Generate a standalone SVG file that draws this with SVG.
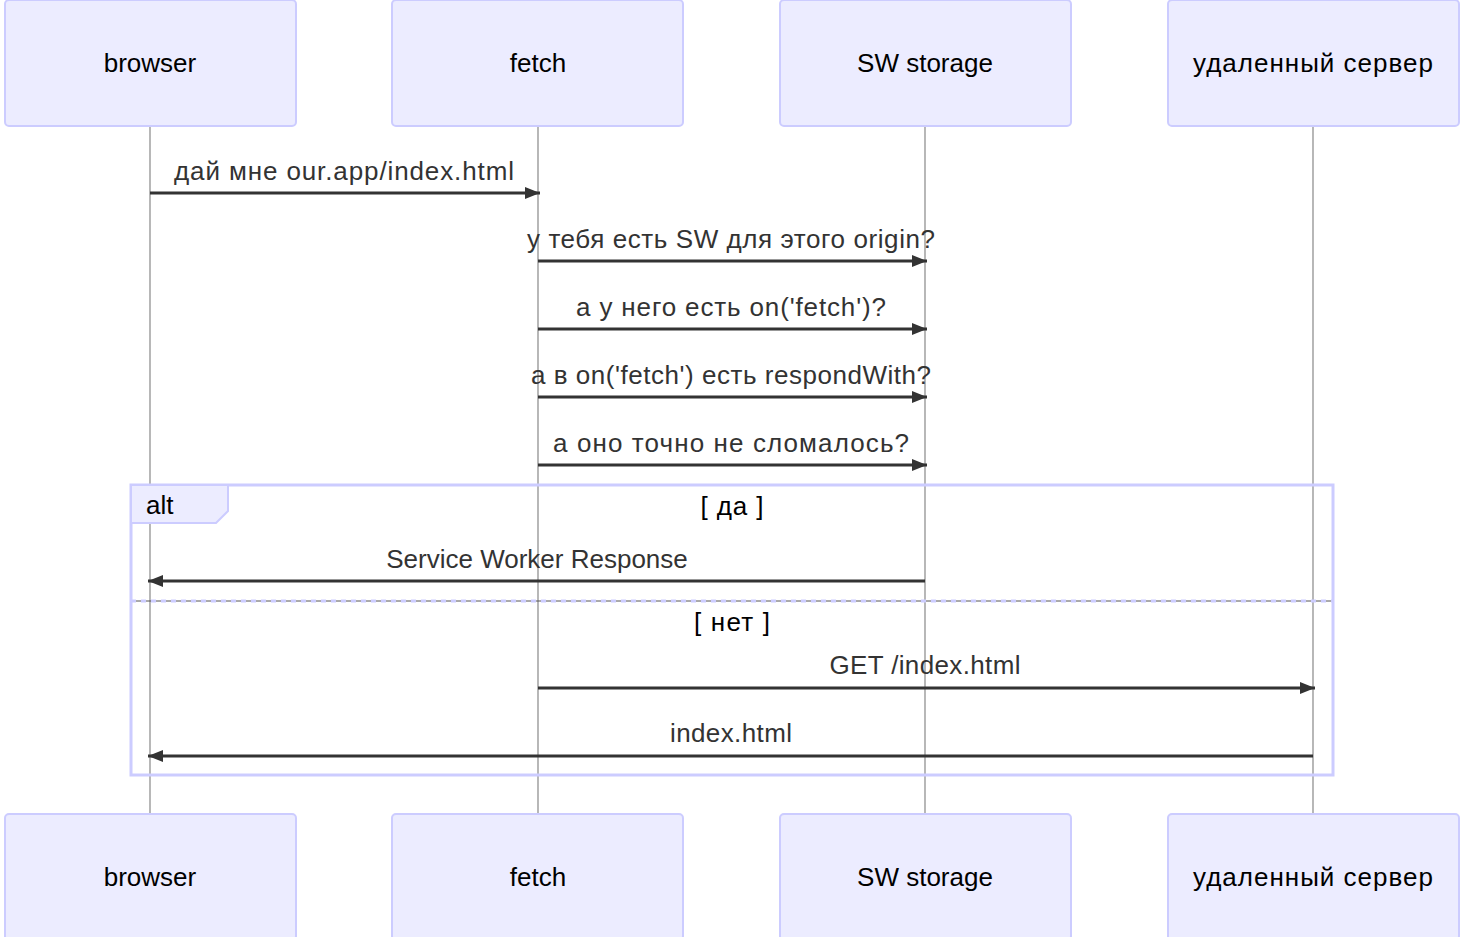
<svg xmlns="http://www.w3.org/2000/svg" width="1461" height="937" viewBox="0 0 1461 937">
<style>
text{font-family:"Liberation Sans",Arial,sans-serif;font-size:26px;fill:#333;text-anchor:middle}
.actor rect{fill:#ECECFF;stroke:#CCCCFF;stroke-width:2}
.actor text{fill:#000}
.life{stroke:#888;stroke-width:1.2}
.msg{stroke:#333;stroke-width:3;fill:none;marker-end:url(#ah)}
.frame{fill:none;stroke:#CCCCFF;stroke-width:3}
.lbl{fill:#ECECFF;stroke:#CCCCFF;stroke-width:2}
.cond{fill:#000}
</style>
<defs>
<marker id="ah" markerUnits="userSpaceOnUse" markerWidth="16" markerHeight="14" refX="15" refY="6" orient="auto">
<path d="M0,0 L15,6 L0,12 z" fill="#333"/>
</marker>
</defs>
<rect width="1461" height="937" fill="#fff"/>
<g id="lifelines">
<line class="life" x1="150" y1="126" x2="150" y2="814"/>
<line class="life" x1="538" y1="126" x2="538" y2="814"/>
<line class="life" x1="925" y1="126" x2="925" y2="814"/>
<line class="life" x1="1313" y1="126" x2="1313" y2="814"/>
</g>
<g id="actor-browser-top" class="actor"><rect x="5" y="0" width="291" height="126" rx="4"/><text x="150" y="72">browser</text></g>
<g id="actor-fetch-top" class="actor"><rect x="392" y="0" width="291" height="126" rx="4"/><text x="538" y="72">fetch</text></g>
<g id="actor-sw-top" class="actor"><rect x="780" y="0" width="291" height="126" rx="4"/><text x="925" y="72">SW storage</text></g>
<g id="actor-server-top" class="actor"><rect x="1168" y="0" width="291" height="126" rx="4"/><text x="1313" y="72" textLength="240" lengthAdjust="spacing">удаленный сервер</text></g>
<g id="actor-browser-bottom" class="actor"><rect x="5" y="814" width="291" height="126" rx="4"/><text x="150" y="886">browser</text></g>
<g id="actor-fetch-bottom" class="actor"><rect x="392" y="814" width="291" height="126" rx="4"/><text x="538" y="886">fetch</text></g>
<g id="actor-sw-bottom" class="actor"><rect x="780" y="814" width="291" height="126" rx="4"/><text x="925" y="886">SW storage</text></g>
<g id="actor-server-bottom" class="actor"><rect x="1168" y="814" width="291" height="126" rx="4"/><text x="1313" y="886" textLength="240" lengthAdjust="spacing">удаленный сервер</text></g>
<g id="alt-frame">
<rect class="frame" x="131" y="485" width="1202" height="290"/>
<path class="lbl" d="M131,485 H228 V511 L216,523 H131 Z"/>
<text x="146" y="514" style="text-anchor:start;fill:#000">alt</text>
<text class="cond" x="732" y="515" textLength="63" lengthAdjust="spacing">[ да ]</text>
<line x1="131" y1="601" x2="1333" y2="601" stroke="#CCCCFF" stroke-width="3" stroke-dasharray="5,5"/>
<line x1="136" y1="601" x2="1333" y2="601" stroke="#555" stroke-width="1" stroke-dasharray="5,5"/>
<text class="cond" x="732" y="631" textLength="76" lengthAdjust="spacing">[ нет ]</text>
</g>
<g id="connectors">
<line class="msg" x1="150" y1="193" x2="540" y2="193"/>
<text x="344" y="180" textLength="340" lengthAdjust="spacing">дай мне our.app/index.html</text>
<line class="msg" x1="538" y1="261" x2="927" y2="261"/>
<text x="731" y="248" textLength="408" lengthAdjust="spacing">у тебя есть SW для этого origin?</text>
<line class="msg" x1="538" y1="329" x2="927" y2="329"/>
<text x="731" y="316" textLength="310" lengthAdjust="spacing">а у него есть on('fetch')?</text>
<line class="msg" x1="538" y1="397" x2="927" y2="397"/>
<text x="731" y="384" textLength="400" lengthAdjust="spacing">а в on('fetch') есть respondWith?</text>
<line class="msg" x1="538" y1="465" x2="927" y2="465"/>
<text x="731" y="452" textLength="356" lengthAdjust="spacing">а оно точно не сломалось?</text>
<line class="msg" x1="925" y1="581" x2="148" y2="581"/>
<text x="537" y="568">Service Worker Response</text>
<line class="msg" x1="538" y1="688" x2="1315" y2="688"/>
<text x="925" y="674" textLength="191" lengthAdjust="spacing">GET /index.html</text>
<line class="msg" x1="1313" y1="756" x2="148" y2="756"/>
<text x="731" y="742" textLength="122" lengthAdjust="spacing">index.html</text>
</g>
</svg>
